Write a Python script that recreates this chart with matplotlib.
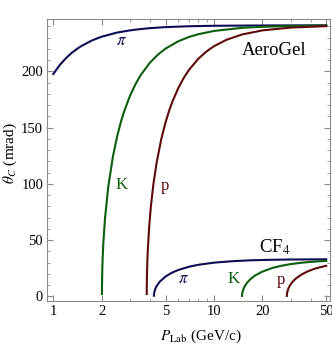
import matplotlib
matplotlib.use("Agg")
import matplotlib.pyplot as plt
from matplotlib.ticker import FixedLocator, NullFormatter

plt.rcParams['font.family'] = ['Liberation Serif', 'DejaVu Serif']
plt.rcParams['mathtext.fontset'] = 'stix'

# Aerogel radiator: momentum (GeV/c) and Cherenkov angle (mrad)
aero_pi_p = [1.0, 1.1, 1.2, 1.3, 1.4, 1.5, 1.75, 2.0, 2.5, 3.0, 3.5, 4.0, 5.0, 7.0, 10.0, 20.0, 50.0]
aero_pi_t = [197.7, 205.9, 211.8, 216.4, 219.9, 222.7, 227.7, 230.9, 234.6, 236.5, 237.7, 238.5, 239.4, 240.2, 240.6, 240.9, 241.0]

aero_k_p = [2.0087, 2.01, 2.02, 2.03, 2.05, 2.1, 2.2, 2.35, 2.5, 2.65, 2.75, 3.0, 3.25, 3.5, 4.0, 4.5, 5.0, 6.0, 7.0, 8.0, 10.0, 15.0, 20.0, 30.0, 50.0]
aero_k_t = [2.0, 8.7, 25.2, 34.5, 47.7, 69.7, 97.5, 124.2, 142.6, 156.3, 163.7, 178.2, 188.7, 196.7, 207.9, 215.2, 220.3, 226.8, 230.7, 233.1, 236.0, 238.8, 239.7, 240.4, 240.8]

aero_p_p = [3.8176, 3.82, 3.83, 3.85, 3.87, 3.95, 4.05, 4.2, 4.4, 4.7, 5.0, 5.25, 5.5, 6.0, 6.5, 7.0, 8.0, 9.0, 10.0, 12.0, 15.0, 20.0, 30.0, 50.0]
aero_p_t = [2.0, 8.5, 19.2, 30.9, 39.1, 61.3, 79.8, 99.7, 118.9, 139.7, 154.7, 164.6, 172.7, 185.2, 194.4, 201.4, 211.3, 217.8, 222.4, 228.2, 232.9, 236.5, 239.0, 240.3]

# CF4 radiator
cf4_pi_p = [4.23, 4.25, 4.3, 4.4, 4.6, 5.0, 5.5, 6.0, 7.0, 8.0, 10.0, 13.0, 17.0, 22.0, 30.0, 40.0, 50.0]
cf4_pi_t = [0.5, 3.2, 6.0, 9.1, 13.0, 17.6, 21.1, 23.4, 26.3, 28.0, 29.9, 31.2, 32.0, 32.4, 32.7, 32.8, 32.9]

cf4_k_p = [14.96, 15.0, 15.2, 15.5, 16.0, 17.0, 18.0, 20.0, 23.0, 26.0, 30.0, 35.0, 40.0, 45.0, 50.0]
cf4_k_t = [0.3, 2.4, 5.8, 8.6, 11.7, 15.7, 18.4, 21.9, 25.1, 27.0, 28.6, 29.8, 30.6, 31.1, 31.5]

cf4_p_p = [28.43, 28.5, 28.8, 29.3, 30.0, 31.0, 32.5, 35.0, 38.0, 42.0, 46.0, 50.0]
cf4_p_t = [0.3, 2.3, 5.3, 8.0, 10.5, 13.2, 16.0, 19.2, 21.9, 24.3, 25.9, 27.1]

x_ticks = [1, 2, 5, 10, 20, 50]
x_minor = [3, 4, 6, 7, 8, 9, 30, 40]
y_ticks = [0, 50, 100, 150, 200]

c_pi = '#0d0d55'
c_k = '#0b5e0b'
c_p = '#5c0a0a'

fig = plt.figure(figsize=(3.32, 3.44), dpi=100)
ax = fig.add_axes([0.1425, 0.126, 0.8515, 0.818])

lw = 1.5
ax.plot(aero_pi_p, aero_pi_t, color=c_pi, lw=lw)
ax.plot(aero_k_p, aero_k_t, color=c_k, lw=lw)
ax.plot(aero_p_p, aero_p_t, color=c_p, lw=lw)
ax.plot(cf4_pi_p, cf4_pi_t, color=c_pi, lw=lw)
ax.plot(cf4_k_p, cf4_k_t, color=c_k, lw=lw)
ax.plot(cf4_p_p, cf4_p_t, color=c_p, lw=lw)

ax.set_xscale('log')
ax.set_xlim(0.918, 52.8)
ax.set_ylim(-3.9, 246.4)

ax.xaxis.set_major_locator(FixedLocator(x_ticks))
ax.set_xticklabels([str(t) for t in x_ticks])
ax.xaxis.set_minor_locator(FixedLocator(x_minor))
ax.xaxis.set_minor_formatter(NullFormatter())
ax.yaxis.set_major_locator(FixedLocator(y_ticks))
ax.set_yticklabels([str(t) for t in y_ticks])
ax.yaxis.set_minor_locator(FixedLocator([v for v in range(0, 250, 10) if v % 50 != 0]))

ax.tick_params(which='both', direction='in', top=True, right=True, color='#8a8a8a',
               labelsize=10.5, labelcolor='black', pad=3)
ax.tick_params(which='major', length=4, width=0.8)
ax.tick_params(which='minor', length=2.2, width=0.6)
for s in ax.spines.values():
    s.set_color('#8a8a8a')
    s.set_linewidth(0.8)

ax.set_xlabel(r'$P_{\mathrm{Lab}}$ (GeV/c)', fontsize=11)
ax.xaxis.set_label_coords(0.544, -0.095)
ax.set_ylabel(r'$\theta_C$ (mrad)', fontsize=11)
ax.yaxis.set_label_coords(-0.10, 0.525)

ax.text(2.67, 227, r'$\pi$', color=c_pi, fontsize=12, ha='center', va='center')
ax.text(2.67, 99, 'K', color=c_k, fontsize=12, ha='center', va='center')
ax.text(4.94, 98, 'p', color=c_p, fontsize=12, ha='center', va='center')
ax.text(23.8, 219, 'AeroGel', color='black', fontsize=13.5, ha='center', va='center')
ax.text(23.8, 44, r'CF$_4$', color='black', fontsize=13.5, ha='center', va='center')
ax.text(6.48, 15.4, r'$\pi$', color=c_pi, fontsize=12, ha='center', va='center')
ax.text(13.2, 15.7, 'K', color=c_k, fontsize=12, ha='center', va='center')
ax.text(26.2, 14.5, 'p', color=c_p, fontsize=12, ha='center', va='center')

fig.savefig('out.png', dpi=100)
